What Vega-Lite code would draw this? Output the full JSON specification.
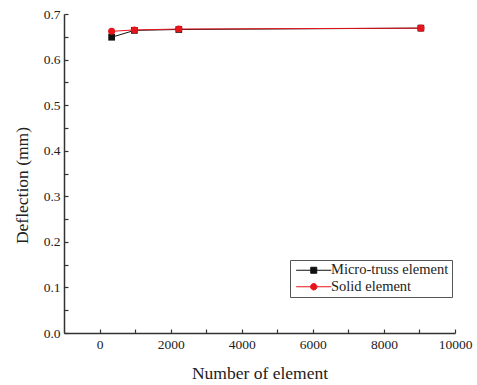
{
  "$schema": "https://vega.github.io/schema/vega-lite/v6.json",
  "autosize": "none",
  "width": 391,
  "height": 319,
  "padding": {"left": 64, "top": 14, "right": 22, "bottom": 52},
  "background": "white",
  "config": {
    "view": {"stroke": null},
    "font": "Liberation Serif",
    "axis": {"grid": false, "domainColor": "#333", "domainWidth": 1.5, "tickColor": "#333", "tickWidth": 1.2, "tickSize": -4, "labelFont": "Liberation Serif", "labelFontSize": 13.5, "labelColor": "#222", "labelFlush": false, "labelOverlap": false, "titleFont": "Liberation Serif", "titleFontSize": 17.5, "titleFontWeight": "normal", "titleColor": "#222"}
  },
  "data": {"values": [
    {"series": "Micro-truss element", "n": 340, "deflection": 0.649},
    {"series": "Micro-truss element", "n": 980, "deflection": 0.664},
    {"series": "Micro-truss element", "n": 2230, "deflection": 0.666},
    {"series": "Micro-truss element", "n": 9040, "deflection": 0.669},
    {"series": "Solid element", "n": 340, "deflection": 0.662},
    {"series": "Solid element", "n": 980, "deflection": 0.665},
    {"series": "Solid element", "n": 2230, "deflection": 0.667},
    {"series": "Solid element", "n": 9040, "deflection": 0.669}
  ]},
  "encoding": {
    "x": {"field": "n", "type": "quantitative", "title": "Number of element",
      "scale": {"domain": [-1000, 10000], "nice": false, "zero": false},
      "axis": {"values": [0,1000,2000,3000,4000,5000,6000,7000,8000,9000,10000], "labelExpr": "datum.value % 2000 === 0 ? format(datum.value, 'd') : ''", "labelPadding": 8, "titlePadding": 14}},
    "y": {"field": "deflection", "type": "quantitative", "title": "Deflection (mm)",
      "scale": {"domain": [0, 0.7], "nice": false},
      "axis": {"values": [0,0.05,0.1,0.15,0.2,0.25,0.3,0.35,0.4,0.45,0.5,0.55,0.6,0.65,0.7], "labelExpr": "abs(datum.value*10 - round(datum.value*10)) < 0.001 ? format(datum.value, '.1f') : ''", "labelPadding": 8, "titlePadding": 12, "titleY": 171}},
    "color": {"field": "series", "type": "nominal",
      "scale": {"domain": ["Micro-truss element", "Solid element"], "range": ["#111111", "#e8141c"]},
      "legend": {"title": null, "orient": "none", "legendX": 226, "legendY": 246, "strokeColor": "#555", "padding": 3, "labelFontSize": 14.5, "labelFont": "Liberation Serif", "labelColor": "#222", "symbolSize": 64, "symbolOffset": 13.5, "symbolStrokeWidth": 1, "rowPadding": 1.5, "labelOffset": 10,
        "encode": {"symbols": {"update": {"shape": {"signal": "datum.value === 'Micro-truss element' ? 'M-4.4,0H4.4M-0.75,-0.75H0.75V0.75H-0.75Z' : 'M-4.4,0H-0.8M0.8,0H4.4M0.8,0A0.8,0.8,0,1,1,-0.8,0A0.8,0.8,0,1,1,0.8,0Z'"}}}}}
    }
  },
  "layer": [
    {"mark": {"type": "line", "strokeWidth": 1}},
    {"transform": [{"filter": "datum.series === 'Micro-truss element'"}],
      "mark": {"type": "point", "shape": "square", "filled": true, "opacity": 1, "size": 45}},
    {"transform": [{"filter": "datum.series === 'Solid element'"}],
      "mark": {"type": "point", "shape": "circle", "filled": true, "opacity": 1, "size": 50}}
  ]
}
